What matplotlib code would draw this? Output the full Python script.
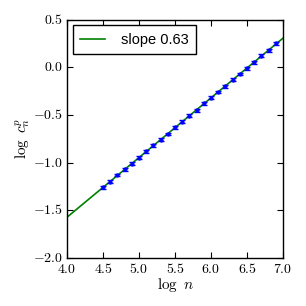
import numpy as np
import matplotlib
matplotlib.use("Agg")
import matplotlib.pyplot as plt
from matplotlib.ticker import FuncFormatter

# log n und log c_n^p
log_n = [4.5, 4.6, 4.7, 4.8, 4.9, 5.0, 5.1, 5.2, 5.3, 5.4, 5.5, 5.6, 5.7,
         5.8, 5.9, 6.0, 6.1, 6.2, 6.3, 6.4, 6.5, 6.6, 6.7, 6.8, 6.9]
log_c = [-1.26, -1.20, -1.13, -1.07, -1.01, -0.95, -0.88, -0.82, -0.76,
         -0.70, -0.63, -0.57, -0.51, -0.45, -0.38, -0.32, -0.26, -0.20,
         -0.13, -0.07, -0.01, 0.05, 0.12, 0.18, 0.25]
err = [0.015] * len(log_n)
slope_label = "slope 0.63"

plt.style.use("classic")
plt.rcParams["mathtext.fontset"] = "cm"


def main():
    fig = plt.figure(figsize=(3.06, 3.06), dpi=100)
    ax = fig.add_axes([0.219, 0.157, 0.706, 0.779])

    # Fit-Gerade über den ganzen x-Bereich
    k, d = np.polyfit(log_n, log_c, 1)
    xs = np.array([4.0, 7.0])
    ax.plot(xs, k * xs + d, color="g", lw=1.2, label=slope_label, zorder=2)

    ax.errorbar(log_n, log_c, yerr=err, fmt="o", color="b", mec="b",
                ms=2.5, capsize=2.5, elinewidth=1.0, capthick=1.0, zorder=3)

    ax.set_xlim(4.0, 7.0)
    ax.set_ylim(-2.0, 0.5)
    ax.set_xticks(np.arange(4.0, 7.01, 0.5))
    ax.set_yticks(np.arange(-2.0, 0.51, 0.5))
    fmt = FuncFormatter(lambda v, p: "$%.1f$" % v)
    ax.xaxis.set_major_formatter(fmt)
    ax.yaxis.set_major_formatter(fmt)
    ax.tick_params(labelsize=10, length=4, width=0.8, pad=3)
    ax.set_xlabel(r"$\log\ n$", fontsize=11, labelpad=0)
    ax.set_ylabel(r"$\log\ c_n^p$", fontsize=11, labelpad=1)

    leg = ax.legend(loc="upper left", numpoints=1, handlelength=1.7,
                    handletextpad=1.1, borderpad=0.5, borderaxespad=0.4,
                    prop={"family": "Liberation Sans", "size": 10.5})
    leg.get_frame().set_linewidth(1.0)

    fig.savefig("out.png", dpi=100)


if __name__ == "__main__":
    main()
